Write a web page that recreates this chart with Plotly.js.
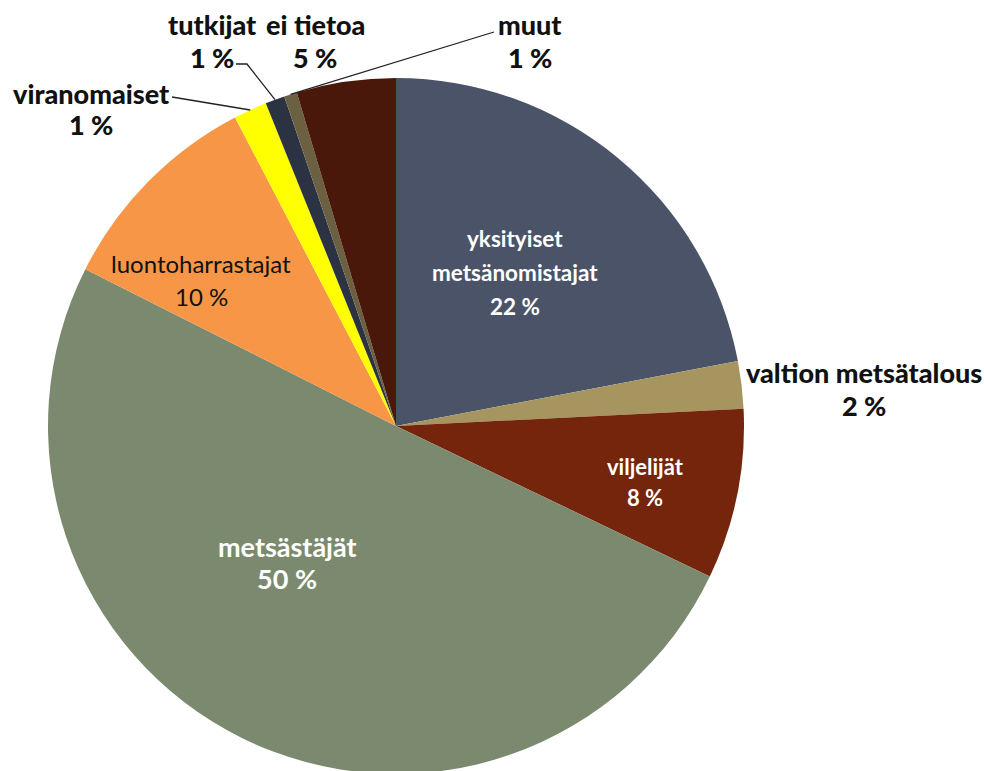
<!DOCTYPE html>
<html>
<head>
<meta charset="utf-8">
<script src="https://cdn.plot.ly/plotly-3.0.1.min.js"></script>
<style>
  html, body { margin: 0; padding: 0; background: #ffffff; overflow: hidden; }
  #chart { width: 985px; height: 776px; }
</style>
</head>
<body>
<div id="chart"></div>
<script>
// ---- data (clockwise from 12 o'clock) ----
const categories = ["yksityiset metsänomistajat", "valtion metsätalous", "viljelijät", "metsästäjät",
                    "luontoharrastajat", "viranomaiset", "tutkijat", "muut", "ei tietoa"];
const shares = [22.0, 2.2, 7.9, 50.3, 9.9, 1.55, 0.9, 0.6, 4.6];
const pctLabels = ["22 %", "2 %", "8 %", "50 %", "10 %", "1 %", "1 %", "1 %", "5 %"];
const sliceColors = ["#4a5367", "#a6955f", "#74250c", "#7b8a6e", "#f79646",
                     "#ffff00", "#2b3343", "#6b6142", "#4a180a"];

// ---- geometry (pixels) ----
const W = 985, H = 776;
const CX = 396, CY = 426, R = 348;
const px = x => x / W;
const py = y => (H - y) / H;

const pie = {
  type: "pie",
  values: shares,
  labels: categories,
  textinfo: "none",
  sort: false,
  direction: "clockwise",
  rotation: 0,
  marker: { colors: sliceColors, line: { width: 0 } },
  domain: { x: [px(CX - R), px(CX + R)], y: [py(CY + R), py(CY - R)] },
  hoverinfo: "label+percent",
  showlegend: false
};

// slice mid-angle helper (clockwise from top)
const total = shares.reduce((a, b) => a + b, 0);
function midPoint(i, rr) {
  let cum = 0;
  for (let k = 0; k < i; k++) cum += shares[k];
  const ang = (cum + shares[i] / 2) / total * 2 * Math.PI;
  return [CX + rr * Math.sin(ang), CY - rr * Math.cos(ang)];
}

const FAM = "Lato, 'Open Sans', sans-serif";
const annotations = [];
function block(lines, x, y0, gap, font) {
  lines.forEach((t, k) => annotations.push({
    xref: "paper", yref: "paper", x: px(x), y: py(y0 + k * gap),
    xanchor: "center", yanchor: "middle", text: t, showarrow: false, font: font
  }));
}
const idx = n => categories.indexOf(n);
const outFont = { family: FAM, size: 27, color: "#111111", weight: 900 };
const white = s => ({ family: FAM, size: s, color: "#ffffff", weight: 700 });

// inside labels
block(["yksityiset", "metsänomistajat", pctLabels[idx("yksityiset metsänomistajat")]], 515, 238, 34, white(22.5));
block(["viljelijät", pctLabels[idx("viljelijät")]], 645, 466, 32, white(22));
block(["metsästäjät", pctLabels[idx("metsästäjät")]], 287, 546, 32, white(27));
block(["luontoharrastajat", pctLabels[idx("luontoharrastajat")]], 201, 263, 33,
      { family: FAM, size: 24, color: "#111111", weight: 400 });

// outside labels
block(["viranomaiset", pctLabels[idx("viranomaiset")]], 91, 93, 32, outFont);
block(["tutkijat", pctLabels[idx("tutkijat")]], 212, 25, 33, outFont);
block(["ei tietoa", pctLabels[idx("ei tietoa")]], 315, 25, 33, outFont);
block(["muut", pctLabels[idx("muut")]], 530, 25, 33, outFont);
block(["valtion metsätalous", pctLabels[idx("valtion metsätalous")]], 864, 373, 33, outFont);

function leader(points) {
  const d = points.map((p, k) => (k ? "L" : "M") + px(p[0]) + "," + py(p[1])).join(" ");
  return { type: "path", xref: "paper", yref: "paper", path: d, line: { color: "#222222", width: 1.3 } };
}
const shapes = [
  leader([[172, 97], midPoint(idx("viranomaiset"), R)]),
  leader([[236, 64], [247, 64], midPoint(idx("tutkijat"), R)]),
  leader([[494, 32], midPoint(idx("muut"), R)])
];

const layout = {
  width: W, height: H,
  margin: { l: 0, r: 0, t: 0, b: 0 },
  paper_bgcolor: "#ffffff",
  showlegend: false,
  annotations: annotations,
  shapes: shapes
};

Plotly.newPlot("chart", [pie], layout, { displayModeBar: false, staticPlot: true });
</script>
</body>
</html>
